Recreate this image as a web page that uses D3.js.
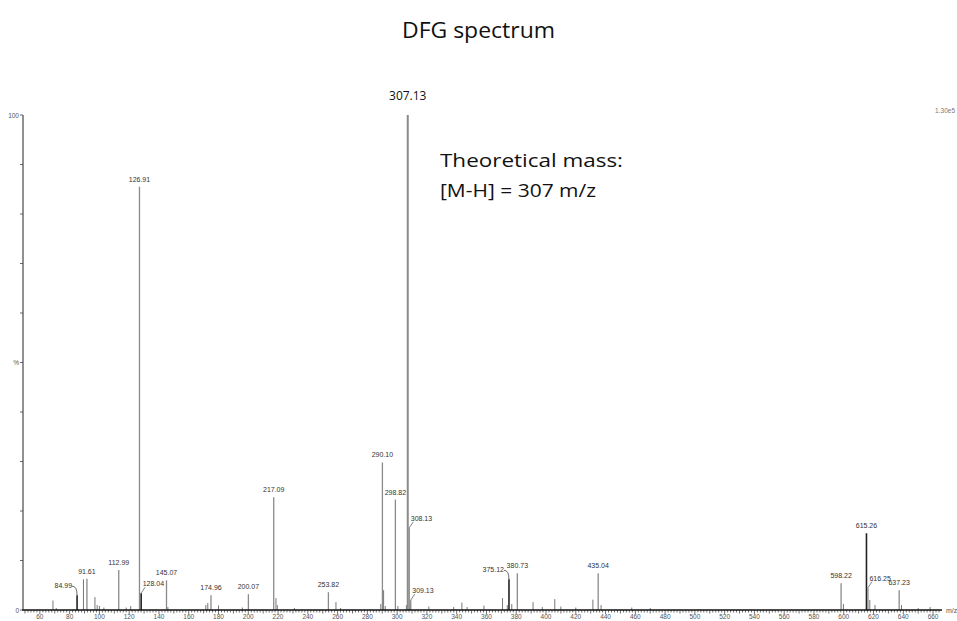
<!DOCTYPE html>
<html>
<head>
<meta charset="utf-8">
<script src="https://cdn.jsdelivr.net/npm/d3@7"></script>
<style>
  html, body { margin: 0; padding: 0; background: #fff; }
  svg { display: block; }
</style>
</head>
<body>
<svg id="chart" width="957" height="621"></svg>
<script>
// Labelled peaks: m/z and relative intensity (%)
const labelMz  = [84.99, 91.61, 112.99, 126.91, 128.04, 145.07, 174.96, 200.07, 217.09, 253.82,
                  290.10, 298.82, 307.13, 308.13, 309.13, 375.12, 380.73, 435.04, 598.22, 615.26, 616.25, 637.23];
const labelInt = [3.0, 6.3, 8.1, 85.5, 3.4, 6.0, 3.0, 3.2, 22.8, 3.6,
                  29.8, 22.3, 100, 16.6, 2.0, 6.2, 7.4, 7.4, 5.4, 15.5, 4.5, 4.0];

// Unlabelled peaks
const minorMz  = [68.8, 71.0, 89.3, 97.0, 98.5, 100.0, 103.0, 118.0, 121.0, 146.0,
                  171.5, 172.8, 180.0, 196.0, 218.6, 219.5, 231.0, 258.9, 262.0, 289.0,
                  290.9, 292.0, 300.5, 306.2, 308.8, 321.3, 338.0, 343.5, 347.0, 358.3,
                  370.8, 374.0, 377.0, 391.3, 397.5, 405.9, 410.0, 420.0, 431.5, 437.0,
                  457.6, 470.0, 599.8, 617.5, 621.0, 638.8, 650.0, 658.0];
const minorInt = [1.9, 0.4, 6.2, 2.6, 1.0, 0.8, 0.5, 0.5, 0.8, 0.6,
                  1.0, 1.4, 0.9, 0.5, 2.4, 1.0, 0.4, 1.6, 0.4, 1.2,
                  4.0, 0.8, 0.8, 1.0, 1.0, 0.7, 0.6, 1.5, 0.6, 0.9,
                  2.4, 1.0, 1.2, 1.6, 0.6, 2.2, 0.7, 0.5, 2.1, 1.0,
                  0.5, 0.4, 1.2, 2.0, 1.0, 1.0, 0.4, 0.6];

const xTickValues = d3.range(60, 661, 20);
const yTickValues = d3.range(0, 101, 10);

const svg = d3.select("#chart");
const x = d3.scaleLinear().domain([48, 666]).range([22, 942]);
const y = d3.scaleLinear().domain([0, 100]).range([610, 115]);

// Title
svg.append("text")
  .attr("x", 402).attr("y", 38)
  .attr("textLength", 153).attr("lengthAdjust", "spacingAndGlyphs")
  .attr("font-family", "'Open Sans', sans-serif")
  .attr("font-size", 21)
  .attr("fill", "#111")
  .text("DFG spectrum");

// Peaks
const minor = minorMz.map((m, i) => ({ mz: m, v: minorInt[i] }));
svg.append("g").selectAll("line").data(minor).join("line")
  .attr("x1", d => x(d.mz)).attr("x2", d => x(d.mz))
  .attr("y1", y(0)).attr("y2", d => y(d.v))
  .attr("stroke", "#777").attr("stroke-width", 1);

const dark = new Set([375.12, 615.26, 128.04, 84.99]);
const peaks = labelMz.map((m, i) => ({ mz: m, v: labelInt[i] }));
svg.append("g").selectAll("line").data(peaks).join("line")
  .attr("x1", d => x(d.mz)).attr("x2", d => x(d.mz))
  .attr("y1", y(0)).attr("y2", d => y(d.v))
  .attr("stroke", d => dark.has(d.mz) ? "#222" : "#8a8a8a")
  .attr("stroke-width", d => d.mz === 307.13 ? 2 : (dark.has(d.mz) ? 1.6 : 1.3));

// Peak labels; some sit beside the peak with a short leader
const side = { 84.99: "left", 128.04: "right", 308.13: "right", 309.13: "right", 375.12: "left", 616.25: "right" };
const labels = svg.append("g")
  .attr("font-family", "'Liberation Sans', Arial, sans-serif")
  .attr("font-size", 7)
  .attr("fill", "#333");
peaks.filter(d => d.mz !== 307.13).forEach(d => {
  const px = x(d.mz), py = y(d.v);
  const s = side[d.mz];
  if (!s) {
    labels.append("text").attr("x", px).attr("y", py - 5)
      .attr("text-anchor", "middle").text(d.mz.toFixed(2));
  } else if (s === "right") {
    labels.append("text").attr("x", px + 1.5).attr("y", py - 7)
      .attr("text-anchor", "start").text(d.mz.toFixed(2));
    labels.append("path")
      .attr("d", `M${px},${py} L${px + 4},${py - 6}`)
      .attr("stroke", "#666").attr("stroke-width", 0.8).attr("fill", "none");
  } else {
    labels.append("text").attr("x", px - 5).attr("y", py - 7)
      .attr("text-anchor", "end").text(d.mz.toFixed(2));
    labels.append("path")
      .attr("d", `M${px - 5},${py - 9} Q${px},${py - 9} ${px},${py}`)
      .attr("stroke", "#444").attr("stroke-width", 0.8).attr("fill", "none");
  }
});

// Base peak label
svg.append("text")
  .attr("x", x(307.13)).attr("y", 100)
  .attr("text-anchor", "middle")
  .attr("font-family", "'Open Sans', sans-serif")
  .attr("font-size", 12)
  .attr("fill", "#111")
  .text("307.13");

// Annotation
const noteLines = [
  { t: "Theoretical mass:", y: 167, w: 183 },
  { t: "[M-H] = 307 m/z", y: 197, w: 156 }
];
svg.append("g").selectAll("text").data(noteLines).join("text")
  .attr("x", 440).attr("y", d => d.y)
  .attr("textLength", d => d.w).attr("lengthAdjust", "spacingAndGlyphs")
  .attr("font-family", "'Open Sans', sans-serif")
  .attr("font-size", 19)
  .attr("fill", "#111")
  .text(d => d.t);

// Scale factor
svg.append("text")
  .attr("x", 955).attr("y", 113)
  .attr("text-anchor", "end")
  .attr("font-family", "'Liberation Sans', Arial, sans-serif")
  .attr("font-size", 6.5)
  .attr("fill", "#777")
  .text("1.30e5");

// X axis
const xAxis = svg.append("g");
xAxis.append("g").selectAll("line").data(d3.range(50, 665, 2)).join("line")
  .attr("x1", d => x(d)).attr("x2", d => x(d))
  .attr("y1", 610).attr("y2", d => d % 20 === 0 ? 614 : (d % 10 === 0 ? 613.5 : 612.5))
  .attr("stroke", "#333").attr("stroke-width", 0.7);
xAxis.append("line")
  .attr("x1", 22).attr("x2", 942).attr("y1", 610).attr("y2", 610)
  .attr("stroke", "#111").attr("stroke-width", 1.6);
xAxis.append("g").selectAll("text").data(xTickValues).join("text")
  .attr("x", d => x(d)).attr("y", 619)
  .attr("text-anchor", "middle")
  .attr("font-family", "'Liberation Sans', Arial, sans-serif")
  .attr("font-size", 6.5)
  .attr("fill", "#555")
  .text(d => d);
xAxis.append("text")
  .attr("x", 946).attr("y", 613)
  .attr("font-family", "'Liberation Sans', Arial, sans-serif")
  .attr("font-size", 7)
  .attr("fill", "#555")
  .text("m/z");

// Y axis
const yAxis = svg.append("g");
yAxis.append("line")
  .attr("x1", 23).attr("x2", 23).attr("y1", 115).attr("y2", 610)
  .attr("stroke", "#222").attr("stroke-width", 1);
yAxis.selectAll("line.tick").data(yTickValues).join("line")
  .attr("class", "tick")
  .attr("x1", 20).attr("x2", 23)
  .attr("y1", d => y(d)).attr("y2", d => y(d))
  .attr("stroke", "#444").attr("stroke-width", 0.8);
const yLab = [{ v: 100, t: "100" }, { v: 50, t: "%" }, { v: 0, t: "0" }];
yAxis.selectAll("text").data(yLab).join("text")
  .attr("x", 19).attr("y", d => y(d.v) + 2.5)
  .attr("text-anchor", "end")
  .attr("font-family", "'Liberation Sans', Arial, sans-serif")
  .attr("font-size", 6.5)
  .attr("fill", "#555")
  .text(d => d.t);
</script>
</body>
</html>
